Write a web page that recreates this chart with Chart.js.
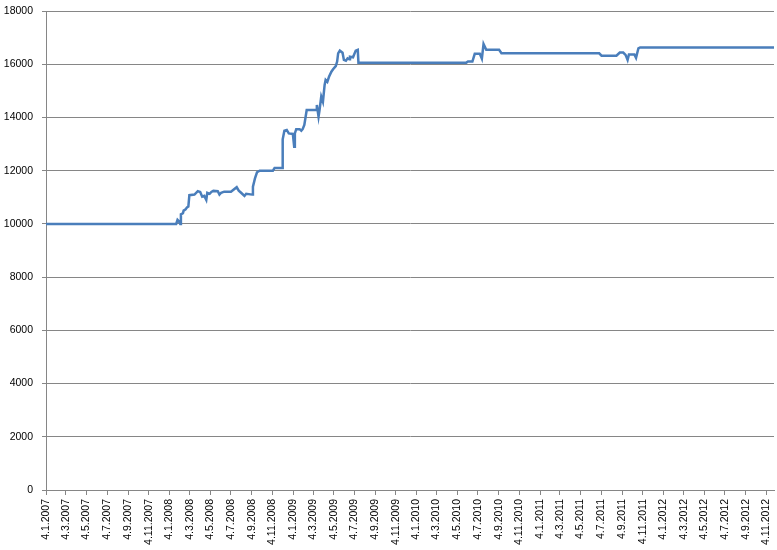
<!DOCTYPE html>
<html>
<head>
<meta charset="utf-8">
<script src="https://cdn.jsdelivr.net/npm/chart.js@4.4.1/dist/chart.umd.min.js"></script>
<style>
    body { margin: 0; background: #fff; }
    canvas { display: block; }
</style>
</head>
<body>
<canvas id="equityChart" width="777" height="550"></canvas>
<script>
// Verilen tarihler ve değerler
const dates = [
    '2007-01-04', '2008-01-24', '2008-01-28', '2008-02-01', '2008-02-05', '2008-02-07',
    '2008-02-13', '2008-02-15', '2008-02-21', '2008-02-25', '2008-02-29', '2008-03-03',
    '2008-03-18', '2008-03-28', '2008-04-04', '2008-04-10', '2008-04-16', '2008-04-22',
    '2008-04-25', '2008-05-02', '2008-05-07', '2008-05-13', '2008-05-26', '2008-05-31',
    '2008-06-05', '2008-06-14', '2008-07-04', '2008-07-21', '2008-07-27', '2008-08-03',
    '2008-08-13', '2008-08-18', '2008-09-05', '2008-09-07', '2008-09-13', '2008-09-19',
    '2008-09-27', '2008-11-05', '2008-11-10', '2008-12-03', '2008-12-04', '2008-12-09',
    '2008-12-16', '2008-12-22', '2009-01-03', '2009-01-07', '2009-01-09', '2009-01-13',
    '2009-01-23', '2009-01-28', '2009-02-01', '2009-02-06', '2009-02-13', '2009-03-13',
    '2009-03-15', '2009-03-20', '2009-03-23', '2009-03-28', '2009-04-02', '2009-04-07',
    '2009-04-10', '2009-04-15', '2009-04-20', '2009-04-27', '2009-05-02', '2009-05-10',
    '2009-05-14', '2009-05-17', '2009-05-22', '2009-05-30', '2009-06-03', '2009-06-09',
    '2009-06-14', '2009-06-19', '2009-06-21', '2009-06-30', '2009-07-08', '2009-07-14',
    '2009-07-16', '2010-05-31', '2010-06-05', '2010-06-18', '2010-06-25', '2010-07-10',
    '2010-07-16', '2010-07-21', '2010-07-29', '2010-09-05', '2010-09-12', '2011-06-28',
    '2011-07-05', '2011-08-18', '2011-08-28', '2011-09-07', '2011-09-14', '2011-09-20',
    '2011-09-24', '2011-10-10', '2011-10-15', '2011-10-22', '2011-10-27', '2012-11-26'
];
const values = [
    10000, 10000, 10150, 10100, 10000, 10360,
    10400, 10500, 10550, 10620, 10650, 11080,
    11100, 11230, 11200, 11020, 11050, 10900,
    11170, 11130, 11200, 11240, 11230, 11100,
    11170, 11210, 11210, 11380, 11250, 11170,
    11050, 11130, 11100, 11400, 11710, 11940,
    12000, 12000, 12100, 12100, 13180, 13500,
    13530, 13400, 13380, 12900, 13400, 13560,
    13560, 13500, 13560, 13720, 14280, 14280,
    14470, 14030, 14280, 14780, 14590, 15220,
    15410, 15340, 15530, 15720, 15810, 15930,
    16100, 16410, 16510, 16430, 16160, 16130,
    16220, 16190, 16280, 16260, 16510, 16540,
    16060, 16060, 16100, 16100, 16390, 16390,
    16210, 16760, 16540, 16540, 16410, 16410,
    16320, 16320, 16440, 16440, 16350, 16160,
    16370, 16370, 16240, 16600, 16630, 16630
];

// X ekseni etiketleri
const tickLabels = [
    '4.1.2007', '4.3.2007', '4.5.2007', '4.7.2007', '4.9.2007', '4.11.2007',
    '4.1.2008', '4.3.2008', '4.5.2008', '4.7.2008', '4.9.2008', '4.11.2008',
    '4.1.2009', '4.3.2009', '4.5.2009', '4.7.2009', '4.9.2009', '4.11.2009',
    '4.1.2010', '4.3.2010', '4.5.2010', '4.7.2010', '4.9.2010', '4.11.2010',
    '4.1.2011', '4.3.2011', '4.5.2011', '4.7.2011', '4.9.2011', '4.11.2011',
    '4.1.2012', '4.3.2012', '4.5.2012', '4.7.2012', '4.9.2012', '4.11.2012'
];

// Y ekseni
const yMin = 0;
const yMax = 18000;
const yStep = 2000;

const DAY = 86400000;
const baseTime = Date.UTC(2007, 0, 4);

function isoToDay(s) {
    const p = s.split('-').map(Number);
    return Math.round((Date.UTC(p[0], p[1] - 1, p[2]) - baseTime) / DAY);
}

function labelToDay(s) {
    const p = s.split('.').map(Number);
    return Math.round((Date.UTC(p[2], p[1] - 1, p[0]) - baseTime) / DAY);
}

const points = dates.map((d, i) => ({ x: isoToDay(d), y: values[i] }));
const tickDays = tickLabels.map(labelToDay);

const gridColor = '#868686';
const axisFont = { family: '"Liberation Sans", Arial, sans-serif', size: 10.5 };

new Chart(document.getElementById('equityChart'), {
    type: 'line',
    data: {
        datasets: [{
            label: 'Değer',
            data: points,
            borderColor: '#4a7ebb',
            borderWidth: 2.5,
            pointRadius: 0,
            tension: 0,
            fill: false
        }]
    },
    options: {
        responsive: false,
        animation: false,
        devicePixelRatio: 1,
        layout: {
            padding: { top: 11, right: 3, left: 0, bottom: 0 }
        },
        plugins: {
            legend: { display: false },
            tooltip: { enabled: false }
        },
        scales: {
            x: {
                type: 'linear',
                min: 0,
                max: isoToDay(dates[dates.length - 1]),
                afterBuildTicks: axis => {
                    axis.ticks = tickDays.map(v => ({ value: v }));
                },
                afterFit: scale => {
                    scale.height = 60;
                    scale.paddingLeft = 0;
                    scale.paddingRight = 0;
                },
                grid: {
                    drawOnChartArea: false,
                    drawTicks: true,
                    tickLength: 5,
                    color: gridColor
                },
                border: { color: gridColor, width: 1 },
                ticks: {
                    autoSkip: false,
                    minRotation: 90,
                    maxRotation: 90,
                    padding: 4,
                    color: '#000',
                    font: axisFont,
                    callback: (value, index) => tickLabels[index]
                }
            },
            y: {
                min: yMin,
                max: yMax,
                afterFit: scale => {
                    scale.width = 46;
                    scale.paddingTop = 0;
                    scale.paddingBottom = 0;
                },
                grid: {
                    color: gridColor,
                    tickLength: 4
                },
                border: { color: gridColor, width: 1 },
                ticks: {
                    stepSize: yStep,
                    padding: 9,
                    color: '#000',
                    font: axisFont,
                    callback: value => String(value)
                }
            }
        }
    }
});
</script>
</body>
</html>
